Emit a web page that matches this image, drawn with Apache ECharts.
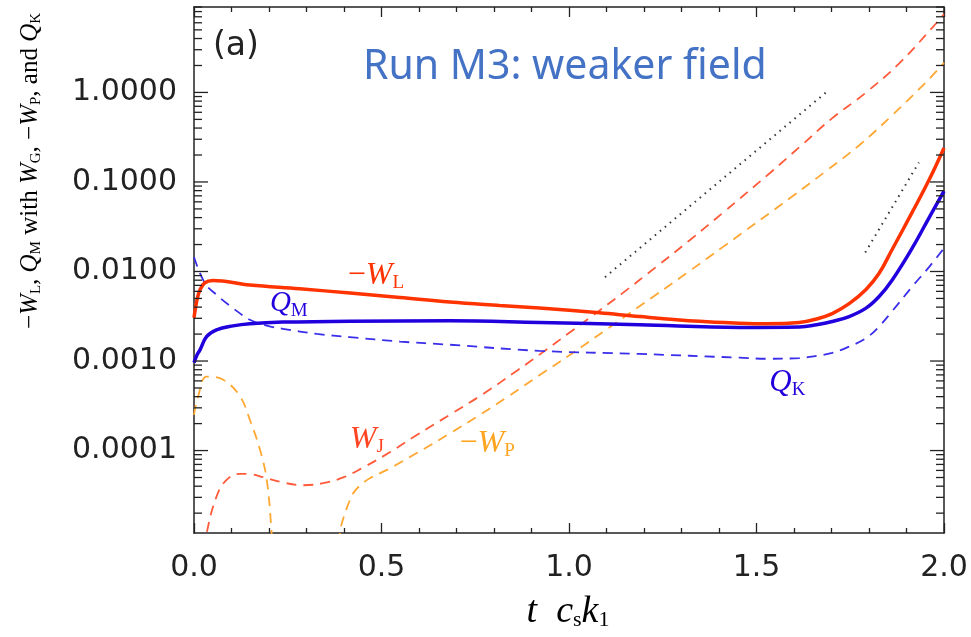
<!DOCTYPE html>
<html><head><meta charset="utf-8">
<script src="https://cdn.jsdelivr.net/npm/echarts@6/dist/echarts.min.js"></script>
<style>html,body{margin:0;padding:0;background:#fff}#c{width:971px;height:637px}</style>
</head><body><div id="c"></div>
<script>
// ---- data (t c_s k_1 , value) ----
const wlT = [0, 0.008, 0.016, 0.029, 0.05, 0.149, 0.282, 0.416, 0.549, 0.682, 0.815, 0.921, 1.081, 1.188, 1.348, 1.454, 1.526, 1.614, 1.660, 1.702, 1.747, 1.792, 1.827, 1.861, 1.915, 1.960, 2.0];
const wlV = [0.00304, 0.00483, 0.00624, 0.00748, 0.00793, 0.00705, 0.00641, 0.00574, 0.00512, 0.00456, 0.00417, 0.00390, 0.00346, 0.00314, 0.00278, 0.00265, 0.00261, 0.00269, 0.00295, 0.00339, 0.00437, 0.00631, 0.00955, 0.0174, 0.0457, 0.105, 0.24];

const qmT = [0, 0.008, 0.016, 0.034, 0.060, 0.104, 0.149, 0.237, 0.415, 0.682, 0.921, 1.188, 1.454, 1.614, 1.660, 1.702, 1.747, 1.792, 1.827, 1.861, 1.915, 1.960, 2.0];
const qmV = [0.00096, 0.00117, 0.00133, 0.00188, 0.00223, 0.00247, 0.00261, 0.00272, 0.00279, 0.00281, 0.00269, 0.00254, 0.00237, 0.00240, 0.00254, 0.00276, 0.00314, 0.00390, 0.00526, 0.00794, 0.0182, 0.0398, 0.079];

const qkT = [0, 0.029, 0.060, 0.104, 0.149, 0.194, 0.237, 0.328, 0.415, 0.549, 0.682, 0.921, 1.188, 1.454, 1.526, 1.614, 1.660, 1.702, 1.747, 1.792, 1.827, 1.861, 1.915, 1.960, 2.0];
const qkV = [0.0145, 0.00741, 0.00549, 0.00390, 0.00289, 0.00249, 0.00229, 0.00201, 0.00185, 0.00165, 0.00152, 0.00130, 0.00120, 0.00109, 0.00106, 0.00108, 0.00114, 0.00123, 0.00145, 0.00180, 0.00243, 0.00357, 0.00676, 0.0112, 0.0182];

const wjT = [0.030, 0.034, 0.060, 0.087, 0.123, 0.149, 0.185, 0.238, 0.291, 0.344, 0.398, 0.451, 0.522, 0.593, 0.682, 0.772, 0.863, 0.932, 1.001, 1.063, 1.142, 1.232, 1.321, 1.409, 1.536, 1.614, 1.702, 1.791, 1.880, 1.969, 2.0];
const wjV = [0.000008, 1.21e-5, 3.06e-5, 4.71e-5, 5.49e-5, 5.45e-5, 5.04e-5, 4.39e-5, 4.10e-5, 4.32e-5, 5.01e-5, 6.46e-5, 9.55e-5, 1.48e-4, 2.51e-4, 4.31e-4, 7.9e-4, 1.27e-3, 2.07e-3, 3.21e-3, 5.70e-3, 0.0112, 0.0222, 0.0448, 0.126, 0.244, 0.516, 0.99, 2.1, 5.3, 7.5];

const wpT = [0, 0.011, 0.034, 0.078, 0.123, 0.149, 0.176, 0.194, 0.207, 0.212, 0.30, 0.386, 0.389, 0.395, 0.406, 0.415, 0.424, 0.440, 0.469, 0.522, 0.593, 0.682, 0.755, 0.836, 0.921, 1.010, 1.099, 1.232, 1.321, 1.409, 1.596, 1.685, 1.774, 1.863, 1.951, 2.0];
const wpV = [2.5e-4, 4.01e-4, 6.71e-4, 6.17e-4, 4.01e-4, 2.20e-4, 1.02e-4, 4.7e-5, 1.2e-5, 5e-6, null, 6e-6, 1.21e-5, 1.58e-5, 2.19e-5, 2.75e-5, 3.31e-5, 3.98e-5, 4.90e-5, 6.31e-5, 9.33e-5, 1.55e-4, 2.40e-4, 3.98e-4, 6.92e-4, 1.23e-3, 2.24e-3, 5.50e-3, 1.01e-2, 0.0186, 0.0692, 0.132, 0.257, 0.562, 1.29, 2.14];

const refAT = [1.096, 1.689];
const refAV = [0.00865, 1.03];
const refBT = [1.790, 1.933];
const refBV = [0.0163, 0.165];

const xTicks = [0, 0.5, 1.0, 1.5, 2.0];
const yMajor = [1e-4, 1e-3, 1e-2, 1e-1, 1];
const yMajorLabels = ['0.0001', '0.0010', '0.0100', '0.1000', '1.0000'];
const yMinor = [2e-5,3e-5,4e-5,5e-5,6e-5,7e-5,8e-5,9e-5,
                2e-4,3e-4,4e-4,5e-4,6e-4,7e-4,8e-4,9e-4,
                2e-3,3e-3,4e-3,5e-3,6e-3,7e-3,8e-3,9e-3,
                2e-2,3e-2,4e-2,5e-2,6e-2,7e-2,8e-2,9e-2,
                0.2,0.3,0.4,0.5,0.6,0.7,0.8,0.9,
                2,3,4,5,6,7,8,9];

// ---- chart ----
const pairs = (T, V) => T.map((t, i) => [t, V[i] == null ? '-' : V[i]]);
const axisCol = '#222';
const chart = echarts.init(document.getElementById('c'), null, {renderer: 'canvas'});

const lineS = (name, T, V, color, width, type, sm) => ({
  name, type: 'line', data: pairs(T, V), showSymbol: false, symbol: 'none',
  smooth: sm, connectNulls: false, clip: true,
  lineStyle: {color, width, type}, z: 3, silent: true
});

// [x, value, tickLength, labelIndex]
const tickData = yMajor.map((v, i) => [0, v, 14, i]).concat(yMinor.map(v => [0, v, 8, -1]));

chart.setOption({
  animation: false,
  grid: {left: 194, right: 27, top: 7, bottom: 104},
  xAxis: [{
    type: 'value', min: 0, max: 2, interval: 0.5, position: 'bottom',
    axisLine: {show: true, onZero: false, lineStyle: {color: axisCol, width: 1.5}},
    axisTick: {show: true, inside: true, length: 10, lineStyle: {color: axisCol, width: 1.3}},
    minorTick: {show: true, splitNumber: 5, length: 5, lineStyle: {color: axisCol, width: 1.3}},
    splitLine: {show: false},
    axisLabel: {margin: 20, fontFamily: 'DejaVu Sans', fontSize: 30, color: axisCol,
      formatter: v => xTicks.some(x => Math.abs(x - v) < 1e-9) ? v.toFixed(1) : ''}
  }, {
    type: 'value', min: 0, max: 2, interval: 0.5, position: 'top',
    axisLine: {show: true, onZero: false, lineStyle: {color: axisCol, width: 1.5}},
    axisTick: {show: true, inside: true, length: 10, lineStyle: {color: axisCol, width: 1.3}},
    minorTick: {show: true, splitNumber: 5, length: 5, lineStyle: {color: axisCol, width: 1.3}},
    splitLine: {show: false}, axisLabel: {show: false}
  }],
  yAxis: [{
    type: 'log', logBase: 10, min: 1.2e-5, max: 9, position: 'left',
    axisLine: {show: true, onZero: false, lineStyle: {color: axisCol, width: 1.5}},
    axisTick: {show: false}, splitLine: {show: false}, minorTick: {show: false},
    axisLabel: {show: false}
  }, {
    type: 'log', logBase: 10, min: 1.2e-5, max: 9, position: 'right',
    axisLine: {show: true, onZero: false, lineStyle: {color: axisCol, width: 1.5}},
    axisTick: {show: false}, splitLine: {show: false}, axisLabel: {show: false}
  }],
  series: [
    {
      type: 'custom', coordinateSystem: 'cartesian2d', xAxisIndex: 0, yAxisIndex: 0,
      silent: true, clip: false, z: 5, data: tickData,
      renderItem: (params, api) => {
        const v = api.value(1), len = api.value(2), li = api.value(3);
        const pL = api.coord([0, v]), pR = api.coord([2, v]);
        const st = {stroke: axisCol, lineWidth: 1.3};
        const ch = [
          {type: 'line', shape: {x1: pL[0], y1: pL[1], x2: pL[0] + len, y2: pL[1]}, style: st},
          {type: 'line', shape: {x1: pR[0] - len, y1: pR[1], x2: pR[0], y2: pR[1]}, style: st}
        ];
        if (li >= 0) {
          ch.push({type: 'text', x: pL[0] - 17, y: pL[1],
            style: {text: yMajorLabels[li], fill: axisCol, font: '30px "DejaVu Sans"',
                    align: 'right', verticalAlign: 'middle', textAlign: 'right', textVerticalAlign: 'middle'}});
        }
        return {type: 'group', children: ch};
      }
    },
    lineS('refA', refAT, refAV, '#333', 2, [1.5, 5], false),
    lineS('refB', refBT, refBV, '#333', 2, [1.5, 5], false),
    lineS('WP', wpT, wpV, '#FFA733', 1.8, [10, 7], 0.4),
    lineS('WJ', wjT, wjV, '#FF5A3A', 1.8, [10, 7], 0.4),
    lineS('QK', qkT, qkV, '#3A2EEA', 1.8, [10, 7], 0.4),
    lineS('QM', qmT, qmV, '#2000DD', 3.5, 'solid', 0.4),
    lineS('WL', wlT, wlV, '#FF3300', 3.5, 'solid', 0.4)
  ]
});

// ---- text annotations anchored in data space ----
const mkRich = (col, main, sub) => ({
  n: {fontFamily: 'Liberation Serif', fontSize: main, color: col},
  i: {fontFamily: 'Liberation Serif', fontStyle: 'italic', fontSize: main, color: col},
  s: {fontFamily: 'Liberation Serif', fontSize: sub, color: col, padding: [14, 0, 0, 0]}
});
const annots = [
  {txt: '{n|−}{i|W}{s|L}', t: 0.410, v: 0.00895, col: '#FF3300', fs: 32},
  {txt: '{i|Q}{s|M}', t: 0.2024, v: 0.00435, col: '#2200DD', fs: 29},
  {txt: '{i|Q}{s|K}', t: 1.534, v: 5.7e-4, col: '#2200DD', fs: 31},
  {txt: '{i|W}{s|J}', t: 0.4155, v: 1.32e-4, col: '#FF4422', fs: 32},
  {txt: '{n|−}{i|W}{s|P}', t: 0.708, v: 1.19e-4, col: '#FFA520', fs: 32}
];
const gr = annots.map(a => {
  const p = chart.convertToPixel({xAxisIndex: 0, yAxisIndex: 0}, [a.t, a.v]);
  return {type: 'text', x: p[0], y: p[1], z: 10, silent: true,
    style: {text: a.txt, rich: mkRich(a.col, a.fs, 19), align: 'left', verticalAlign: 'middle',
            textAlign: 'left', textVerticalAlign: 'middle', fill: a.col}};
});

const yTitleRich = {
  n: {fontFamily: 'Liberation Serif', fontSize: 25, color: '#222'},
  i: {fontFamily: 'Liberation Serif', fontStyle: 'italic', fontSize: 25, color: '#222'},
  s: {fontFamily: 'Liberation Serif', fontSize: 15, color: '#222', padding: [12, 0, 0, 0]}
};
gr.push({type: 'text', x: 30, y: 171, rotation: Math.PI / 2, z: 10, silent: true,
  style: {text: '{n|−}{i|W}{s|L}{n|, }{i|Q}{s|M}{n| with }{i|W}{s|G}{n|, −}{i|W}{s|P}{n|, and }{i|Q}{s|K}',
    rich: yTitleRich, align: 'center', verticalAlign: 'middle', textAlign: 'center', textVerticalAlign: 'middle'}});

const xTitleRich = {
  n: {fontFamily: 'Liberation Serif', fontSize: 38, color: '#222'},
  i: {fontFamily: 'Liberation Serif', fontStyle: 'italic', fontSize: 38, color: '#222'},
  s: {fontFamily: 'Liberation Serif', fontSize: 22, color: '#222', padding: [16, 0, 0, 0]}
};
gr.push({type: 'text', x: 568, y: 612, z: 10, silent: true,
  style: {text: '{i|t}{n|  }{i|c}{s|s}{i|k}{s|1}', rich: xTitleRich,
    align: 'center', verticalAlign: 'middle', textAlign: 'center', textVerticalAlign: 'middle'}});

gr.push({type: 'text', x: 213, y: 46, z: 10, silent: true,
  style: {text: '(a)', fill: '#222', font: '33px "DejaVu Sans"', align: 'left', verticalAlign: 'middle',
    textAlign: 'left', textVerticalAlign: 'middle'}});
gr.push({type: 'text', x: 363, y: 67, z: 10, silent: true,
  style: {text: 'Run M3: weaker field', fill: '#4472C4', font: '41px "Noto Sans"', align: 'left', verticalAlign: 'middle',
    textAlign: 'left', textVerticalAlign: 'middle'}});

chart.setOption({graphic: {elements: gr}});
</script>
</body></html>
